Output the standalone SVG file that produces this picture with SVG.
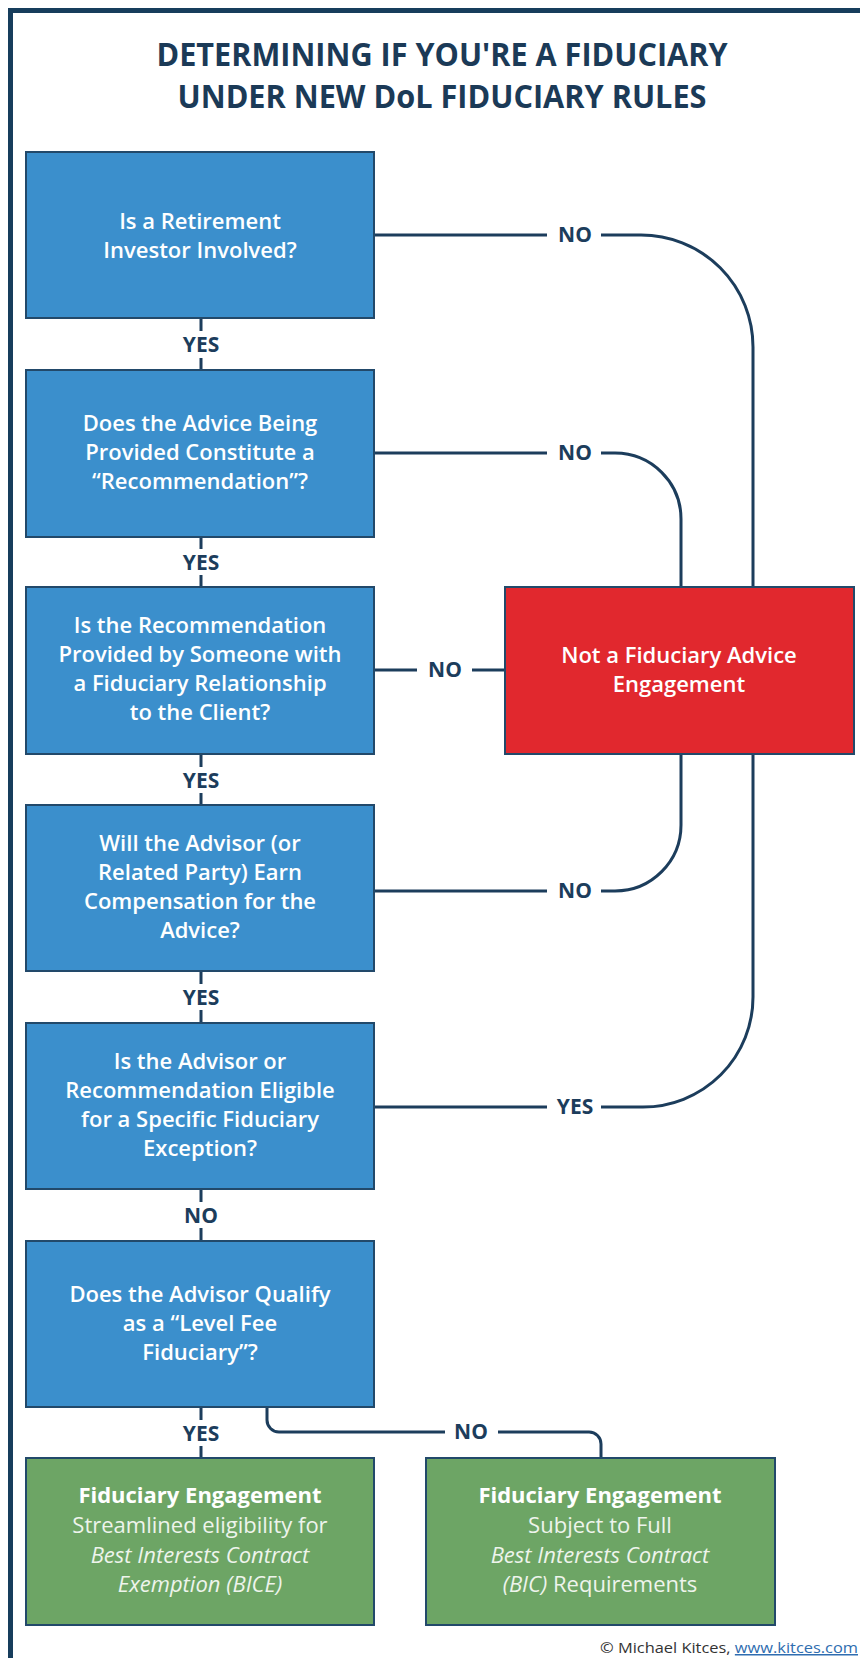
<svg xmlns="http://www.w3.org/2000/svg" width="860" height="1658" viewBox="0 0 860 1658">
  <style>
    .frame { fill: #173d5c; }
    .title { font-family: "Open Sans", "DejaVu Sans", sans-serif; font-weight: 700; font-size: 32px; fill: #1b3a57; text-anchor: middle; }
    .q { fill: #3b8fcc; stroke: #22496a; stroke-width: 2; }
    .stop { fill: #e1282e; stroke: #22496a; stroke-width: 2; }
    .go { fill: #6da565; stroke: #22496a; stroke-width: 2; }
    .bt { font-family: "Open Sans", "DejaVu Sans", sans-serif; font-weight: 600; font-size: 22px; fill: #ffffff; text-anchor: middle; }
    .gt { font-family: "Open Sans", "DejaVu Sans", sans-serif; font-weight: 400; font-size: 22px; fill: #eef4ec; text-anchor: middle; }
    .gt .h { font-weight: 700; fill: #ffffff; }
    .gt .i { font-style: italic; }
    .wire { fill: none; stroke: #1c3d5c; stroke-width: 3; }
    .lbl { font-family: "Open Sans", "DejaVu Sans", sans-serif; font-weight: 700; font-size: 21px; fill: #1c3d5c; text-anchor: middle; }
    .credit { font-family: "Open Sans", "Liberation Sans", sans-serif; font-size: 15px; fill: #333333; }
    .link { fill: #2f6db0; text-decoration: underline; }
  </style>

  <!-- page frame (top and left edges) -->
  <rect class="frame" x="8" y="8" width="852" height="5"/>
  <rect class="frame" x="8" y="8" width="5" height="1650"/>

  <!-- heading -->
  <g id="title">
    <text class="title" x="442" y="66" textLength="571" lengthAdjust="spacingAndGlyphs">DETERMINING IF YOU'RE A FIDUCIARY</text>
    <text class="title" x="442" y="108" textLength="529" lengthAdjust="spacingAndGlyphs">UNDER NEW DoL FIDUCIARY RULES</text>
  </g>

  <!-- connectors -->
  <g id="connectors">
    <!-- vertical YES/NO links down the question column -->
    <path class="wire" d="M201,318 V331 M201,358 V370"/>
    <path class="wire" d="M201,537 V549 M201,575 V587"/>
    <path class="wire" d="M201,754 V767 M201,793 V805"/>
    <path class="wire" d="M201,971 V984 M201,1010 V1023"/>
    <path class="wire" d="M201,1189 V1202 M201,1228 V1241"/>
    <path class="wire" d="M201,1407 V1420 M201,1446 V1458"/>

    <!-- Q1 NO -> not fiduciary -->
    <path class="wire" d="M374,235 H547 M601,235 H641 A112,112 0 0 1 753,347 V587"/>
    <!-- Q2 NO -> not fiduciary -->
    <path class="wire" d="M374,453 H547 M601,453 H615 A66,66 0 0 1 681,519 V587"/>
    <!-- Q3 NO -> not fiduciary -->
    <path class="wire" d="M374,670 H417 M472,670 H505"/>
    <!-- Q4 NO -> not fiduciary -->
    <path class="wire" d="M374,891 H547 M601,891 H615 A66,66 0 0 0 681,825 V754"/>
    <!-- Q5 YES -> not fiduciary -->
    <path class="wire" d="M374,1107 H547 M601,1107 H643 A110,110 0 0 0 753,997 V754"/>
    <!-- Q6 NO -> full BIC -->
    <path class="wire" d="M267,1407 V1420 A12,12 0 0 0 279,1432 H445 M498,1432 H589 A12,12 0 0 1 601,1444 V1458"/>

    <!-- branch labels -->
    <text class="lbl" x="201" y="352">YES</text>
    <text class="lbl" x="201" y="570">YES</text>
    <text class="lbl" x="201" y="788">YES</text>
    <text class="lbl" x="201" y="1005">YES</text>
    <text class="lbl" x="201" y="1223">NO</text>
    <text class="lbl" x="201" y="1441">YES</text>
    <text class="lbl" x="575" y="242">NO</text>
    <text class="lbl" x="575" y="460">NO</text>
    <text class="lbl" x="445" y="677">NO</text>
    <text class="lbl" x="575" y="898">NO</text>
    <text class="lbl" x="575" y="1114">YES</text>
    <text class="lbl" x="471" y="1439">NO</text>
  </g>

  <!-- question boxes -->
  <g id="q1">
    <rect class="q" x="26" y="152" width="348" height="166"/>
    <text class="bt" x="200" y="229">Is a Retirement</text>
    <text class="bt" x="200" y="258">Investor Involved?</text>
  </g>
  <g id="q2">
    <rect class="q" x="26" y="370" width="348" height="167"/>
    <text class="bt" x="200" y="431">Does the Advice Being</text>
    <text class="bt" x="200" y="460">Provided Constitute a</text>
    <text class="bt" x="200" y="489">“Recommendation”?</text>
  </g>
  <g id="q3">
    <rect class="q" x="26" y="587" width="348" height="167"/>
    <text class="bt" x="200" y="633">Is the Recommendation</text>
    <text class="bt" x="200" y="662">Provided by Someone with</text>
    <text class="bt" x="200" y="691">a Fiduciary Relationship</text>
    <text class="bt" x="200" y="720">to the Client?</text>
  </g>
  <g id="q4">
    <rect class="q" x="26" y="805" width="348" height="166"/>
    <text class="bt" x="200" y="851">Will the Advisor (or</text>
    <text class="bt" x="200" y="880">Related Party) Earn</text>
    <text class="bt" x="200" y="909">Compensation for the</text>
    <text class="bt" x="200" y="938">Advice?</text>
  </g>
  <g id="q5">
    <rect class="q" x="26" y="1023" width="348" height="166"/>
    <text class="bt" x="200" y="1069">Is the Advisor or</text>
    <text class="bt" x="200" y="1098">Recommendation Eligible</text>
    <text class="bt" x="200" y="1127">for a Specific Fiduciary</text>
    <text class="bt" x="200" y="1156">Exception?</text>
  </g>
  <g id="q6">
    <rect class="q" x="26" y="1241" width="348" height="166"/>
    <text class="bt" x="200" y="1302">Does the Advisor Qualify</text>
    <text class="bt" x="200" y="1331">as a “Level Fee</text>
    <text class="bt" x="200" y="1360">Fiduciary”?</text>
  </g>

  <!-- outcome: not fiduciary -->
  <g id="not-fiduciary">
    <rect class="stop" x="505" y="587" width="349" height="167"/>
    <text class="bt" x="679" y="663">Not a Fiduciary Advice</text>
    <text class="bt" x="679" y="692">Engagement</text>
  </g>

  <!-- outcome: level fee fiduciary -->
  <g id="bice">
    <rect class="go" x="26" y="1458" width="348" height="167"/>
    <text class="gt" x="200" y="1503"><tspan class="h">Fiduciary Engagement</tspan></text>
    <text class="gt" x="200" y="1533">Streamlined eligibility for</text>
    <text class="gt" x="200" y="1563"><tspan class="i">Best Interests Contract</tspan></text>
    <text class="gt" x="200" y="1592"><tspan class="i">Exemption (BICE)</tspan></text>
  </g>

  <!-- outcome: full BIC -->
  <g id="bic">
    <rect class="go" x="426" y="1458" width="349" height="167"/>
    <text class="gt" x="600" y="1503"><tspan class="h">Fiduciary Engagement</tspan></text>
    <text class="gt" x="600" y="1533">Subject to Full</text>
    <text class="gt" x="600" y="1563"><tspan class="i">Best Interests Contract</tspan></text>
    <text class="gt" x="600" y="1592"><tspan class="i">(BIC)</tspan> Requirements</text>
  </g>

  <!-- credit line -->
  <text class="credit" x="600" y="1653" textLength="258" lengthAdjust="spacingAndGlyphs">© Michael Kitces, <tspan class="link">www.kitces.com</tspan></text>
</svg>
